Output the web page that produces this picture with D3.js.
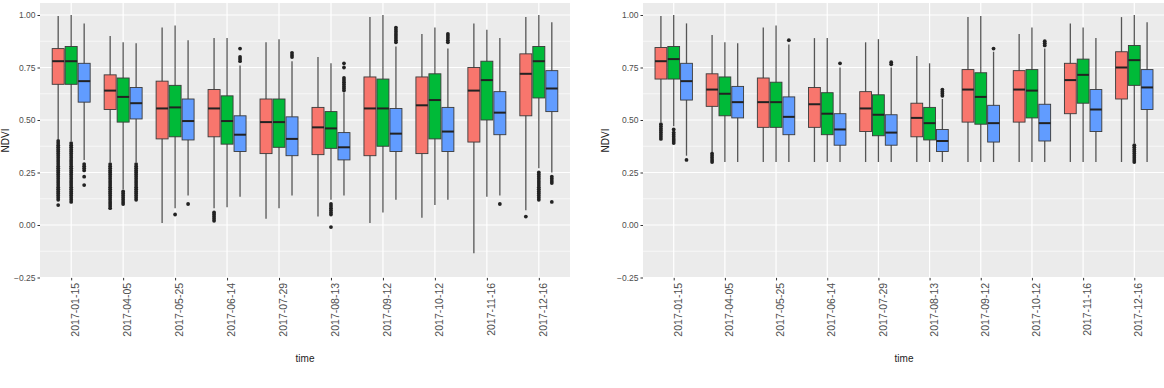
<!DOCTYPE html>
<html>
<head>
<meta charset="utf-8">
<script src="https://cdn.jsdelivr.net/npm/d3@7"></script>
<style>
  body { margin: 0; background: #fff; }
  svg { display: block; font-family: "Liberation Sans", Arial, sans-serif; }
  .tick text { fill: #4d4d4d; }
</style>
</head>
<body>
<svg id="chart" width="1164" height="388"></svg>
<script>
(function () {
    'use strict';

    // categories
    var dates = ['2017-01-15','2017-04-05','2017-05-25','2017-06-14','2017-07-29',
                 '2017-08-13','2017-09-12','2017-10-12','2017-11-16','2017-12-16'];
    var yTicks = [-0.25, 0, 0.25, 0.5, 0.75, 1];
    var yMinor = [-0.125, 0.125, 0.375, 0.625, 0.875];
    var colours = ['#F8766D', '#00BA38', '#619CFF'];

    // box stats per date: [lower whisker, q1, median, q3, upper whisker]
    var leftRed = [[0.41,0.67,0.78,0.84,0.995],[0.30,0.55,0.64,0.715,0.90],[0.01,0.41,0.555,0.685,0.94],
                   [0.08,0.42,0.555,0.645,0.89],[0.03,0.34,0.49,0.60,0.87],[0.04,0.335,0.465,0.56,0.80],
                   [0.01,0.33,0.555,0.705,0.99],[0.035,0.34,0.57,0.705,0.91],[-0.135,0.395,0.64,0.75,0.96],
                   [0.07,0.52,0.72,0.815,0.99]];
    var leftGreen = [[0.40,0.67,0.78,0.85,1.0],[0.17,0.49,0.61,0.70,0.87],[0.08,0.42,0.56,0.665,0.95],
                     [0.085,0.385,0.495,0.615,0.89],[0.08,0.37,0.49,0.60,0.885],[0.12,0.365,0.46,0.54,0.77],
                     [0.06,0.375,0.555,0.695,1.0],[0.095,0.41,0.595,0.72,0.94],[0.135,0.50,0.69,0.78,0.93],
                     [0.27,0.605,0.78,0.85,1.0]];
    var leftBlue = [[0.31,0.585,0.685,0.77,0.96],[0.30,0.505,0.58,0.655,0.865],[0.14,0.405,0.495,0.60,0.88],
                    [0.135,0.35,0.43,0.52,0.76],[0.14,0.33,0.41,0.515,0.78],[0.14,0.31,0.37,0.44,0.63],
                    [0.12,0.35,0.435,0.555,0.85],[0.12,0.35,0.445,0.56,0.84],[0.14,0.43,0.535,0.635,0.89],
                    [0.25,0.54,0.65,0.735,0.965]];

    // outliers per date
    var leftRedOut = [[0.40,0.39,0.38,0.37,0.36,0.35,0.34,0.33,0.32,0.31,0.30,0.29,0.28,0.27,0.26,0.25,0.24,0.23,0.22,0.21,0.20,0.19,0.18,0.17,0.16,0.15,0.14,0.13,0.12,0.095],
                      [0.29,0.28,0.27,0.26,0.25,0.24,0.23,0.22,0.21,0.20,0.19,0.18,0.17,0.16,0.15,0.14,0.13,0.12,0.11,0.10,0.09,0.08],
                      [],[0.06,0.05,0.04,0.03,0.02],[],[],[],[],[],[0.04]];
    var leftGreenOut = [[0.39,0.38,0.37,0.36,0.35,0.34,0.33,0.32,0.31,0.30,0.29,0.28,0.27,0.26,0.25,0.24,0.23,0.22,0.21,0.20,0.19,0.18,0.17,0.16,0.15,0.14,0.13,0.12,0.11],
                        [0.16,0.15,0.14,0.13,0.12,0.11,0.10],
                        [0.05],[],[],[0.10,0.09,0.08,0.07,0.06,0.05,-0.01],[],[],[],
                        [0.25,0.24,0.23,0.22,0.21,0.20,0.19,0.18,0.17,0.16,0.15,0.14,0.13,0.12]];
    var leftBlueOut = [[0.29,0.28,0.27,0.26,0.23,0.19],
                       [0.29,0.28,0.27,0.26,0.25,0.24,0.23,0.22,0.21,0.20,0.19,0.18,0.17,0.16,0.15,0.14,0.13,0.12],
                       [0.10],[0.84,0.80,0.79,0.78],[0.82,0.81,0.80],[0.77,0.75,0.70,0.69,0.68,0.67,0.66,0.65,0.64],
                       [0.94,0.93,0.92,0.91,0.90,0.89,0.88,0.87],[0.91,0.90,0.89,0.88,0.87],[0.10],
                       [0.23,0.22,0.21,0.20,0.11]];

    var rightRed = [[0.49,0.695,0.78,0.845,0.995],[0.345,0.565,0.645,0.72,0.905],[0.30,0.465,0.585,0.70,0.94],
                    [0.30,0.465,0.575,0.655,0.89],[0.30,0.445,0.555,0.635,0.87],[0.30,0.42,0.51,0.58,0.805],
                    [0.30,0.49,0.645,0.74,0.99],[0.30,0.49,0.645,0.735,0.91],[0.30,0.53,0.69,0.77,0.96],
                    [0.30,0.60,0.75,0.825,0.99]];
    var rightGreen = [[0.47,0.695,0.79,0.85,1.0],[0.30,0.52,0.625,0.705,0.87],[0.30,0.465,0.585,0.68,0.95],
                      [0.30,0.43,0.53,0.63,0.89],[0.30,0.425,0.525,0.62,0.885],[0.30,0.405,0.485,0.56,0.77],
                      [0.30,0.48,0.61,0.725,0.995],[0.30,0.51,0.64,0.74,0.94],[0.30,0.58,0.715,0.79,0.94],
                      [0.39,0.665,0.785,0.855,1.0]];
    var rightBlue = [[0.33,0.595,0.685,0.77,0.96],[0.30,0.51,0.585,0.66,0.865],[0.30,0.43,0.515,0.61,0.86],
                     [0.30,0.38,0.455,0.53,0.75],[0.30,0.38,0.44,0.525,0.75],[0.30,0.35,0.40,0.455,0.60],
                     [0.30,0.395,0.485,0.57,0.825],[0.30,0.40,0.485,0.575,0.84],[0.30,0.445,0.55,0.645,0.89],
                     [0.30,0.55,0.655,0.74,0.965]];

    var rightRedOut = [[0.48,0.47,0.46,0.45,0.44,0.43,0.42,0.41],[0.34,0.33,0.32,0.31,0.30],[],[],[],[],[],[],[],[]];
    var rightGreenOut = [[0.455,0.44,0.43,0.42,0.41,0.40,0.39],[],[],[],[],[],[],[],[],
                         [0.38,0.37,0.36,0.35,0.34,0.33,0.32,0.31,0.30]];
    var rightBlueOut = [[0.31],[],[0.88],[0.77],[0.775,0.765],[0.645,0.635,0.625,0.615],[0.84],[0.875,0.865,0.855],[],[]];

    var svg = d3.select('#chart');

    var panels = [
        { x0: 40, x1: 570, box: [leftRed, leftGreen, leftBlue], out: [leftRedOut, leftGreenOut, leftBlueOut], yTitleX: 9 },
        { x0: 643, x1: 1165, box: [rightRed, rightGreen, rightBlue], out: [rightRedOut, rightGreenOut, rightBlueOut], yTitleX: 609 }
    ];

    panels.forEach(function (p) {
        var g = svg.append('g');

        var x = d3.scalePoint()
            .domain(dates)
            .range([p.x0, p.x1])
            .padding(0.6);

        var y = d3.scaleLinear()
            .domain([-0.25, 1])
            .range([277.5, 15]);

        var top = y(1.057), bottom = y(-0.252);

        // panel background
        g.append('rect')
            .attr('x', p.x0).attr('y', top)
            .attr('width', p.x1 - p.x0).attr('height', bottom - top)
            .style('fill', '#ebebeb');

        // minor grid
        g.selectAll('line.minor')
            .data(yMinor)
            .enter().append('line')
            .attr('class', 'minor')
            .attr('x1', p.x0).attr('x2', p.x1)
            .attr('y1', d => y(d)).attr('y2', d => y(d))
            .style('stroke', '#fff').style('stroke-width', 0.6);

        // major grid
        g.selectAll('line.majorY')
            .data(yTicks)
            .enter().append('line')
            .attr('class', 'majorY')
            .attr('x1', p.x0).attr('x2', p.x1)
            .attr('y1', d => y(d)).attr('y2', d => y(d))
            .style('stroke', '#fff').style('stroke-width', 1.2);

        g.selectAll('line.majorX')
            .data(dates)
            .enter().append('line')
            .attr('class', 'majorX')
            .attr('x1', d => x(d)).attr('x2', d => x(d))
            .attr('y1', top).attr('y2', bottom)
            .style('stroke', '#fff').style('stroke-width', 1.2);

        var step = x.step();
        var bw = step * 0.75 / 3;

        p.box.forEach(function (series, k) {
            var off = (k - 1) * bw;
            var boxes = g.selectAll('g.box' + k)
                .data(series)
                .enter().append('g')
                .attr('class', 'box' + k);

            // whiskers
            boxes.append('line')
                .attr('x1', (d, i) => x(dates[i]) + off)
                .attr('x2', (d, i) => x(dates[i]) + off)
                .attr('y1', d => y(d[0]))
                .attr('y2', d => y(d[4]))
                .style('stroke', '#555').style('stroke-width', 1.3);

            boxes.append('rect')
                .attr('x', (d, i) => x(dates[i]) + off - bw / 2 + 0.5)
                .attr('width', bw - 1)
                .attr('y', d => y(d[3]))
                .attr('height', d => y(d[1]) - y(d[3]))
                .style('fill', colours[k])
                .style('stroke', '#3a3a3a').style('stroke-width', 0.9);

            boxes.append('line')
                .attr('x1', (d, i) => x(dates[i]) + off - bw / 2 + 0.5)
                .attr('x2', (d, i) => x(dates[i]) + off + bw / 2 - 0.5)
                .attr('y1', d => y(d[2]))
                .attr('y2', d => y(d[2]))
                .style('stroke', '#222').style('stroke-width', 2);

            // outliers
            var pts = [];
            p.out[k].forEach(function (vals, i) {
                vals.forEach(v => pts.push({ date: dates[i], v: v }));
            });
            g.selectAll('circle.out' + k)
                .data(pts)
                .enter().append('circle')
                .attr('class', 'out' + k)
                .attr('cx', d => x(d.date) + off)
                .attr('cy', d => y(d.v))
                .attr('r', 1.9)
                .style('fill', '#222');
        });

        // axes
        var yAxis = d3.axisLeft(y)
            .tickValues(yTicks)
            .tickSize(2.5)
            .tickPadding(2)
            .tickFormat(d3.format('.2f'));

        var ya = g.append('g')
            .attr('transform', `translate(${p.x0},0)`)
            .call(yAxis);
        ya.select('.domain').remove();
        ya.selectAll('.tick line').style('stroke', '#333');
        ya.selectAll('.tick text').style('font-size', '8.5px');

        var xAxis = d3.axisBottom(x)
            .tickSize(2.5)
            .tickPadding(3);

        var xa = g.append('g')
            .attr('transform', `translate(0,${bottom})`)
            .call(xAxis);
        xa.select('.domain').remove();
        xa.selectAll('.tick line').style('stroke', '#333');
        xa.selectAll('.tick text')
            .style('font-size', '10.5px')
            .style('text-anchor', 'end')
            .attr('transform', 'rotate(-90)')
            .attr('x', -5)
            .attr('y', 4)
            .attr('dy', '0.35em');

        // axis titles
        g.append('text')
            .attr('transform', `translate(${p.yTitleX},${(top + bottom) / 2}) rotate(-90)`)
            .style('text-anchor', 'middle')
            .style('font-size', '10px')
            .style('fill', '#222')
            .text('NDVI');

        g.append('text')
            .attr('x', (p.x0 + p.x1) / 2)
            .attr('y', 362)
            .style('text-anchor', 'middle')
            .style('font-size', '10px')
            .style('fill', '#222')
            .text('time');
    });
}());
</script>
</body>
</html>
